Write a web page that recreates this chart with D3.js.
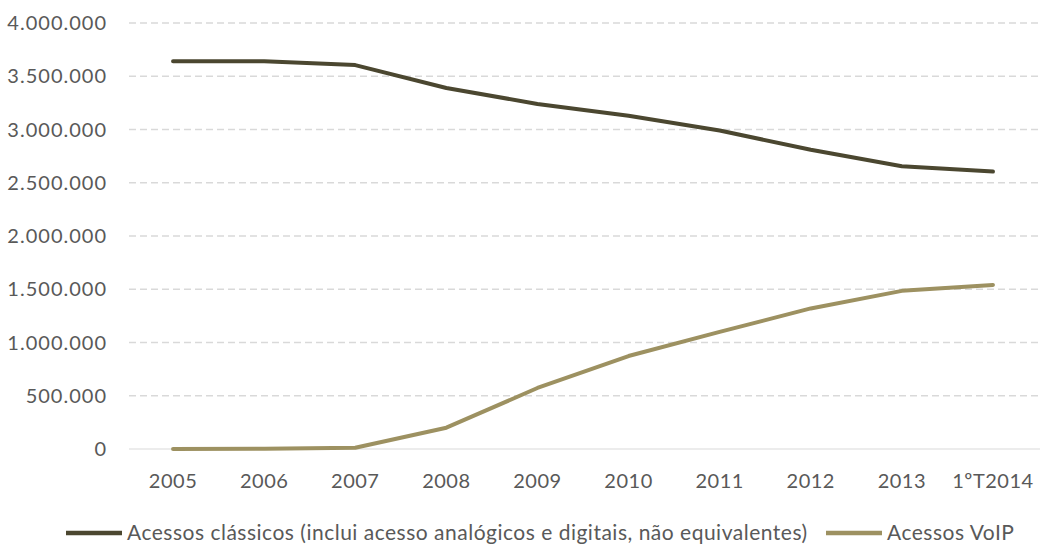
<!DOCTYPE html>
<html>
<head>
<meta charset="utf-8">
<script src="https://cdn.jsdelivr.net/npm/d3@7"></script>
<style>
  body { margin: 0; background: #fff; }
  text { font-family: Lato, "Open Sans", sans-serif; fill: #595959; }
</style>
</head>
<body>
<svg id="chart" width="1040" height="544"></svg>
<script>
const years = ["2005", "2006", "2007", "2008", "2009", "2010", "2011", "2012", "2013", "1ºT2014"]
const classicos = [3640000, 3640000, 3605000, 3390000, 3240000, 3130000, 2990000, 2810000, 2655000, 2605000]
const voip = [0, 2000, 12000, 200000, 573000, 873000, 1100000, 1320000, 1485000, 1540000]
const yTicks = [0, 500000, 1000000, 1500000, 2000000, 2500000, 3000000, 3500000, 4000000]

const series = [
    { name: "Acessos clássicos (inclui acesso analógicos e digitais, não equivalentes)", values: classicos, color: "#4b4730" },
    { name: "Acessos VoIP", values: voip, color: "#9d9161" }
]

const svg = d3.select("#chart")
const fmt = d => d === 0 ? "0" : d3.format(",")(d).replace(/,/g, ".")

const x = d3.scalePoint()
    .domain(years)
    .range([127.5, 1038.5])
    .padding(0.5)

const y = d3.scaleLinear()
    .domain([0, 4000000])
    .range([449, 23])

// grid
svg.append("g")
    .selectAll("line")
    .data(yTicks.filter(d => d > 0))
    .join("line")
    .attr("x1", 129).attr("x2", 1040)
    .attr("y1", d => y(d)).attr("y2", d => y(d))
    .attr("stroke", "#d9d9d9")
    .attr("stroke-width", 1.5)
    .attr("stroke-dasharray", "7,4")

svg.append("line")
    .attr("x1", 129).attr("x2", 1040)
    .attr("y1", y(0)).attr("y2", y(0))
    .attr("stroke", "#d9d9d9")
    .attr("stroke-width", 1)

// y labels
svg.append("g")
    .selectAll("text")
    .data(yTicks)
    .join("text")
    .attr("x", 107)
    .attr("y", d => y(d))
    .attr("dy", "0.35em")
    .attr("text-anchor", "end")
    .attr("font-size", 20)
    .attr("letter-spacing", 1)
    .text(fmt)

// x labels
svg.append("g")
    .selectAll("text")
    .data(years)
    .join("text")
    .attr("x", d => x(d))
    .attr("y", 481)
    .attr("dy", "0.35em")
    .attr("text-anchor", "middle")
    .attr("font-size", 20)
    .attr("letter-spacing", 0.5)
    .text(d => d)

const line = d3.line()
    .x((d, i) => x(years[i]))
    .y(d => y(d))

svg.append("g")
    .selectAll("path")
    .data(series)
    .join("path")
    .attr("d", d => line(d.values))
    .attr("fill", "none")
    .attr("stroke", d => d.color)
    .attr("stroke-width", 4)
    .attr("stroke-linejoin", "round")
    .attr("stroke-linecap", "round")

// legend
const legendPos = [66, 826]
const lg = svg.append("g")
    .selectAll("g")
    .data(series)
    .join("g")
    .attr("transform", (d, i) => `translate(${legendPos[i]},533)`)

lg.append("line")
    .attr("x1", 0).attr("x2", 56)
    .attr("stroke", d => d.color)
    .attr("stroke-width", 4.5)

lg.append("text")
    .attr("x", 61)
    .attr("dy", "0.35em")
    .attr("font-size", 21)
    .attr("letter-spacing", 0.5)
    .text(d => d.name)
</script>
</body>
</html>
